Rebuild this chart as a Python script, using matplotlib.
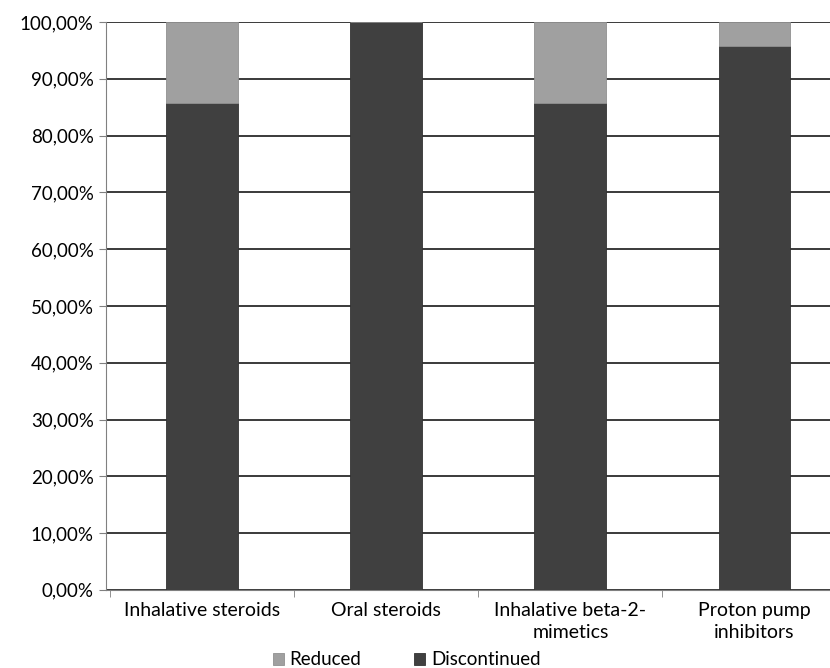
import matplotlib.pyplot as plt
from matplotlib.ticker import FuncFormatter

categories = ["Inhalative steroids", "Oral steroids", "Inhalative beta-2-\nmimetics", "Proton pump\ninhibitors"]
discontinued = [85.7, 100.0, 85.7, 95.8]
reduced = [14.3, 0.0, 14.3, 4.2]

plt.rcParams['font.family'] = ['Lato', 'DejaVu Sans']

fig = plt.figure(figsize=(8.3, 6.68), dpi=100)
ax = fig.add_axes([0.128, 0.117, 0.872, 0.85])

x = range(len(categories))
ax.bar(x, discontinued, width=0.39, color='#404040', edgecolor='#333333', linewidth=0.6,
       label='Discontinued', zorder=3)
ax.bar(x, reduced, width=0.39, bottom=discontinued, color='#a0a0a0', edgecolor='#909090',
       linewidth=0.6, label='Reduced', zorder=3)

ax.set_ylim(0, 100)
ax.set_xlim(-0.52, 3.41)
ax.set_yticks(range(0, 101, 10))
ax.yaxis.set_major_formatter(FuncFormatter(lambda v, p: f"{v:.2f}".replace('.', ',') + '%'))
ax.yaxis.grid(True, color='#3a3a3a', linewidth=1.4, zorder=0)
ax.set_axisbelow(True)

ax.set_xticks(x)
ax.set_xticklabels(categories, fontsize=14, linespacing=1.3)
ax.tick_params(axis='x', length=0, pad=9)
ax.set_xticks([-0.5, 0.5, 1.5, 2.5], minor=True)
ax.tick_params(axis='x', which='minor', length=5, color='#808080')
ax.tick_params(axis='y', labelsize=13.5, length=5, color='#808080', pad=4)

for s in ['top', 'right']:
    ax.spines[s].set_visible(False)
ax.spines['left'].set_color('#808080')
ax.spines['bottom'].set_color('#808080')

handles, labels = ax.get_legend_handles_labels()
fig.legend(handles[::-1], labels[::-1], loc='center', bbox_to_anchor=(0.49, 0.012), ncol=2,
           frameon=False, fontsize=13.5, handlelength=0.6, handleheight=0.6,
           handletextpad=0.3, columnspacing=2.8)

fig.savefig('out.png', dpi=100)
